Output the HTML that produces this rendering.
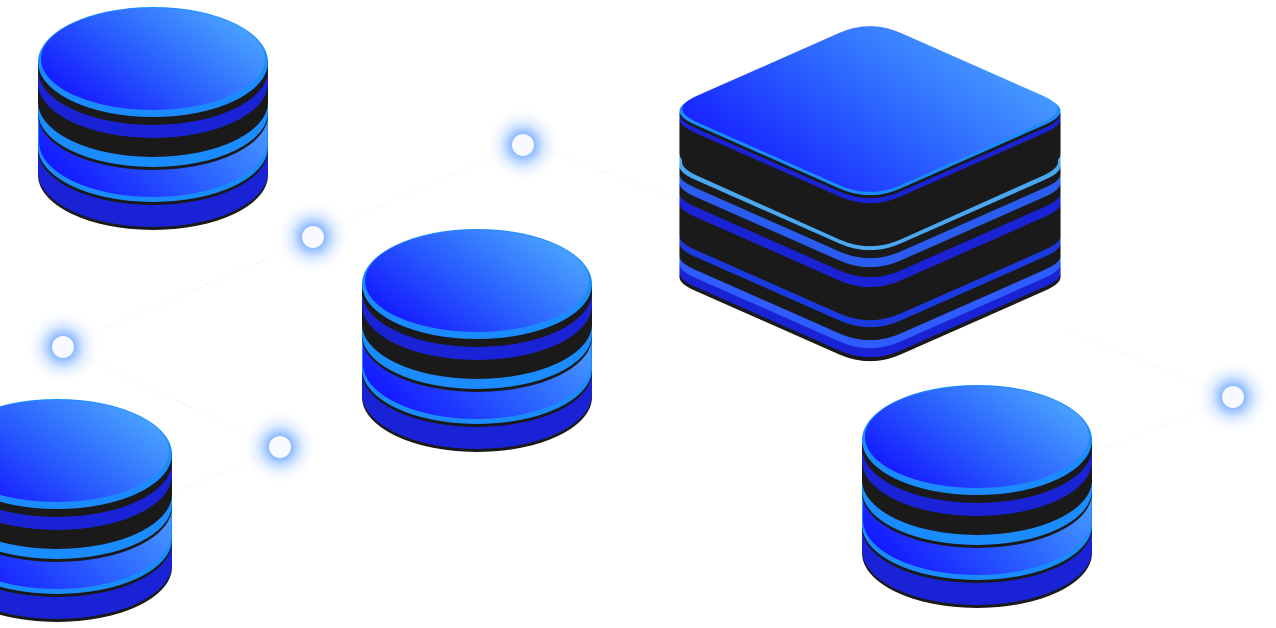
<!DOCTYPE html>
<html><head><meta charset="utf-8"><style>html,body{margin:0;padding:0;background:#fff;overflow:hidden}svg{display:block}</style></head>
<body>
<svg width="1276" height="628" viewBox="0 0 1276 628" xmlns="http://www.w3.org/2000/svg">
<defs>
<linearGradient id="g" x1="0" y1="0.8" x2="1" y2="0.2">
<stop offset="0" stop-color="#1212ff"/><stop offset="0.5" stop-color="#2b62ff"/><stop offset="1" stop-color="#4eaaff"/></linearGradient>
<radialGradient id="glow"><stop offset="0.3" stop-color="#5a9dff" stop-opacity="0.7"/><stop offset="0.6" stop-color="#9cc4ff" stop-opacity="0.3"/><stop offset="1" stop-color="#fff" stop-opacity="0"/></radialGradient>
<g id="cyl">
<path d="M38,60 L38,175 A115,55 0 0 0 268,175 L268,60Z" fill="#1a1a1a"/>
<path d="M38,60 L38,172 A115,55 0 0 0 268,172 L268,60Z" fill="#1a22d6"/>
<path d="M38,60 L38,150 A115,55 0 0 0 268,150 L268,60Z" fill="#1a1a1a"/>
<path d="M38,60 L38,147 A115,55 0 0 0 268,147 L268,60Z" fill="#1a8cff"/>
<path d="M39,60 L39,142 A114,55 0 0 0 267,142 L267,60Z" fill="url(#g)"/>
<path d="M38,60 L38,115 A115,55 0 0 0 268,115 L268,60Z" fill="#1a1a1a"/>
<path d="M38,60 L38,112 A115,55 0 0 0 268,112 L268,60Z" fill="#1a8cff"/>
<path d="M38,60 L38,102 A115,55 0 0 0 268,102 L268,60Z" fill="#1a1a1a"/>
<path d="M38,60 L38,83 A115,55 0 0 0 268,83 L268,60Z" fill="#1a22d6"/>
<path d="M38,60 L38,70 A115,55 0 0 0 268,70 L268,60Z" fill="#1a1a1a"/>
<ellipse cx="153" cy="62" rx="115" ry="55" fill="#1a8cff"/>
<ellipse cx="153" cy="59" rx="112" ry="51" fill="url(#g)"/>
</g>
<path id="dia" d="M-190.55,0 Q-190.55,-6.825 -175.1,-13.65 L-30.9,-77.35 Q0,-91 30.9,-77.35 L175.1,-13.65 Q190.55,-6.825 190.55,0 Q190.55,6.825 175.1,13.65 L30.9,77.35 Q0,91 -30.9,77.35 L-175.1,13.65 Q-190.55,6.825 -190.55,0Z"/>
</defs>

<g stroke="#e6ecf5" stroke-width="1.2" stroke-dasharray="2 3" fill="none" opacity="0.7">
<line x1="100" y1="330" x2="300" y2="245"/><line x1="330" y1="228" x2="505" y2="152"/>
<line x1="545" y1="150" x2="680" y2="200"/><line x1="90" y1="360" x2="260" y2="440"/>
<line x1="180" y1="490" x2="265" y2="455"/><line x1="1100" y1="450" x2="1215" y2="405"/>
<line x1="1065" y1="330" x2="1215" y2="390"/>
</g>

<g fill="url(#glow)">
<circle cx="523" cy="145" r="38"/><circle cx="313" cy="237" r="38"/><circle cx="63" cy="347" r="38"/><circle cx="280" cy="447" r="38"/><circle cx="1233" cy="397" r="38"/>
</g>
<g fill="#f8faff">
<circle cx="523" cy="145" r="11"/><circle cx="313" cy="237" r="11"/><circle cx="63" cy="347" r="11"/><circle cx="280" cy="447" r="11"/><circle cx="1233" cy="397" r="11"/>
</g>

<use href="#cyl"/>
<use href="#cyl" transform="translate(324,222)"/>
<use href="#cyl" transform="translate(-96,392)"/>
<use href="#cyl" transform="translate(824,378)"/>

<g transform="translate(870,0)">
<path transform="translate(0,273)" fill="#1a1a1a" d="M-190.55,0 Q-190.55,-6.825 -175.1,-13.65 L-30.9,-77.35 Q0,-91 30.9,-77.35 L175.1,-13.65 Q190.55,-6.825 190.55,0 L190.55,4 Q190.55,10.825 175.1,17.65 L30.9,81.35 Q0,95 -30.9,81.35 L-175.1,17.65 Q-190.55,10.825 -190.55,4Z"/>
<path transform="translate(0,264)" fill="#1a22d6" d="M-190.55,0 Q-190.55,-6.825 -175.1,-13.65 L-30.9,-77.35 Q0,-91 30.9,-77.35 L175.1,-13.65 Q190.55,-6.825 190.55,0 L190.55,9 Q190.55,15.825 175.1,22.65 L30.9,86.35 Q0,100 -30.9,86.35 L-175.1,22.65 Q-190.55,15.825 -190.55,9Z"/>
<path transform="translate(0,256)" fill="#2f5cff" d="M-190.55,0 Q-190.55,-6.825 -175.1,-13.65 L-30.9,-77.35 Q0,-91 30.9,-77.35 L175.1,-13.65 Q190.55,-6.825 190.55,0 L190.55,8 Q190.55,14.825 175.1,21.65 L30.9,85.35 Q0,99 -30.9,85.35 L-175.1,21.65 Q-190.55,14.825 -190.55,8Z"/>
<path transform="translate(0,243)" fill="#1a1a1a" d="M-190.55,0 Q-190.55,-6.825 -175.1,-13.65 L-30.9,-77.35 Q0,-91 30.9,-77.35 L175.1,-13.65 Q190.55,-6.825 190.55,0 L190.55,13 Q190.55,19.825 175.1,26.65 L30.9,90.35 Q0,104 -30.9,90.35 L-175.1,26.65 Q-190.55,19.825 -190.55,13Z"/>
<path transform="translate(0,236)" fill="#1a3ae0" d="M-190.55,0 Q-190.55,-6.825 -175.1,-13.65 L-30.9,-77.35 Q0,-91 30.9,-77.35 L175.1,-13.65 Q190.55,-6.825 190.55,0 L190.55,7 Q190.55,13.825 175.1,20.65 L30.9,84.35 Q0,98 -30.9,84.35 L-175.1,20.65 Q-190.55,13.825 -190.55,7Z"/>
<path transform="translate(0,203)" fill="#1a1a1a" d="M-190.55,0 Q-190.55,-6.825 -175.1,-13.65 L-30.9,-77.35 Q0,-91 30.9,-77.35 L175.1,-13.65 Q190.55,-6.825 190.55,0 L190.55,33 Q190.55,39.825 175.1,46.65 L30.9,110.35 Q0,124 -30.9,110.35 L-175.1,46.65 Q-190.55,39.825 -190.55,33Z"/>
<path transform="translate(0,193)" fill="#1a22d6" d="M-190.55,0 Q-190.55,-6.825 -175.1,-13.65 L-30.9,-77.35 Q0,-91 30.9,-77.35 L175.1,-13.65 Q190.55,-6.825 190.55,0 L190.55,10 Q190.55,16.825 175.1,23.65 L30.9,87.35 Q0,101 -30.9,87.35 L-175.1,23.65 Q-190.55,16.825 -190.55,10Z"/>
<path transform="translate(0,183)" fill="#1a1a1a" d="M-190.55,0 Q-190.55,-6.825 -175.1,-13.65 L-30.9,-77.35 Q0,-91 30.9,-77.35 L175.1,-13.65 Q190.55,-6.825 190.55,0 L190.55,10 Q190.55,16.825 175.1,23.65 L30.9,87.35 Q0,101 -30.9,87.35 L-175.1,23.65 Q-190.55,16.825 -190.55,10Z"/>
<path transform="translate(0,174)" fill="#2a5cf0" d="M-190.55,0 Q-190.55,-6.825 -175.1,-13.65 L-30.9,-77.35 Q0,-91 30.9,-77.35 L175.1,-13.65 Q190.55,-6.825 190.55,0 L190.55,9 Q190.55,15.825 175.1,22.65 L30.9,86.35 Q0,100 -30.9,86.35 L-175.1,22.65 Q-190.55,15.825 -190.55,9Z"/>
<path transform="translate(0,166)" fill="#1a1a1a" d="M-190.55,0 Q-190.55,-6.825 -175.1,-13.65 L-30.9,-77.35 Q0,-91 30.9,-77.35 L175.1,-13.65 Q190.55,-6.825 190.55,0 L190.55,8 Q190.55,14.825 175.1,21.65 L30.9,85.35 Q0,99 -30.9,85.35 L-175.1,21.65 Q-190.55,14.825 -190.55,8Z"/>
<path transform="translate(0,157)" fill="#4aa8f0" d="M-190.55,0 Q-190.55,-6.825 -175.1,-13.65 L-30.9,-77.35 Q0,-91 30.9,-77.35 L175.1,-13.65 Q190.55,-6.825 190.55,0 L190.55,9 Q190.55,15.825 175.1,22.65 L30.9,86.35 Q0,100 -30.9,86.35 L-175.1,22.65 Q-190.55,15.825 -190.55,9Z"/>
<path transform="translate(0,154)" fill="#1a1a1a" d="M-188,0 Q-188,-6.825 -173,-13.65 L-30.9,-77.35 Q0,-91 30.9,-77.35 L173,-13.65 Q188,-6.825 188,0 L188,8 Q188,14.825 173,21.65 L30.9,85.35 Q0,99 -30.9,85.35 L-173,21.65 Q-188,14.825 -188,8Z"/>
<path transform="translate(0,119)" fill="#1a1a1a" d="M-190.55,0 Q-190.55,-6.825 -175.1,-13.65 L-30.9,-77.35 Q0,-91 30.9,-77.35 L175.1,-13.65 Q190.55,-6.825 190.55,0 L190.55,35 Q190.55,41.825 175.1,48.65 L30.9,112.35 Q0,126 -30.9,112.35 L-175.1,48.65 Q-190.55,41.825 -190.55,35Z"/>
<path transform="translate(0,114)" fill="#1a22d6" d="M-190.55,0 Q-190.55,-6.825 -175.1,-13.65 L-30.9,-77.35 Q0,-91 30.9,-77.35 L175.1,-13.65 Q190.55,-6.825 190.55,0 L190.55,5 Q190.55,11.825 175.1,18.65 L30.9,82.35 Q0,96 -30.9,82.35 L-175.1,18.65 Q-190.55,11.825 -190.55,5Z"/>
<use href="#dia" transform="translate(0,114)" fill="#1a1a1a"/>
<use href="#dia" transform="translate(0,111)" fill="#1a8cff"/>
<use href="#dia" transform="translate(0,109) scale(0.985)" fill="url(#g)"/>
</g>
</svg>
</body></html>
